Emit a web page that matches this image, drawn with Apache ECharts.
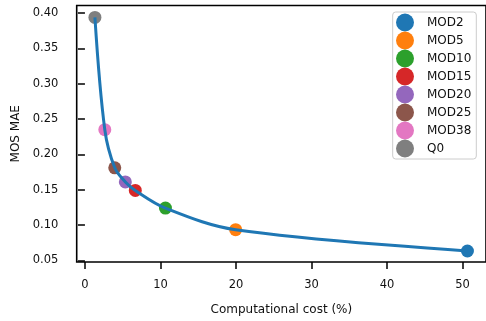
<!DOCTYPE html>
<html>
<head>
<meta charset="utf-8">
<script src="https://cdn.jsdelivr.net/npm/echarts@6/dist/echarts.min.js"></script>
<style>
html,body{margin:0;padding:0;background:#fff;}
#chart{width:486px;height:321px;}
</style>
</head>
<body>
<div id="chart"></div>
<script>
const models = ['MOD2','MOD5','MOD10','MOD15','MOD20','MOD25','MOD38','Q0'];
const cost = [50.66, 19.96, 10.66, 6.67, 5.35, 3.95, 2.63, 1.32];
const mae = [0.0632, 0.0934, 0.124, 0.149, 0.161, 0.181, 0.235, 0.394];
const colors = ['#1f77b4','#ff7f0e','#2ca02c','#d62728','#9467bd','#8c564b','#e377c2','#7f7f7f'];
const xTicks = [0, 10, 20, 30, 40, 50];
const yTicks = [0.05, 0.10, 0.15, 0.20, 0.25, 0.30, 0.35, 0.40];

const font = 'DejaVu Sans';
const chart = echarts.init(document.getElementById('chart'), null, {renderer: 'canvas'});

const linePts = models.map((m, i) => [cost[i], mae[i]]).sort((a, b) => a[0] - b[0]);

const series = models.map((m, i) => ({
  name: m,
  type: 'scatter',
  data: [[cost[i], mae[i]]],
  symbol: 'circle',
  symbolSize: 13,
  itemStyle: {color: colors[i], opacity: 1},
  z: 2
}));
series.push({
  name: 'curve',
  type: 'line',
  data: linePts,
  smooth: 0.35,
  showSymbol: false,
  symbol: 'none',
  lineStyle: {color: '#1f77b4', width: 3},
  z: 5,
  silent: true
});

chart.setOption({
  animation: false,
  backgroundColor: '#fff',
  grid: {
    left: 76.7, top: 5.5, width: 412, height: 259.2,
    show: true, borderColor: '#000', borderWidth: 1.6, backgroundColor: 'transparent'
  },
  legend: {
    data: models,
    orient: 'vertical',
    left: 392.7, top: 12,
    itemWidth: 28, itemHeight: 18, itemGap: 0,
    icon: 'circle',
    padding: [1.5, 5, 1.5, 3.3],
    backgroundColor: 'rgba(255,255,255,0.8)',
    borderColor: '#cccccc', borderWidth: 1, borderRadius: 3,
    textStyle: {fontFamily: font, fontSize: 12, color: '#111', padding: [0, 0, 0, 3]}
  },
  xAxis: {
    type: 'value',
    min: -1.092, max: 53.12,
    name: 'Computational cost (%)',
    nameLocation: 'middle', nameGap: 42,
    nameTextStyle: {fontFamily: font, fontSize: 12, color: '#111'},
    axisLine: {show: false},
    splitLine: {show: false},
    axisTick: {show: true, customValues: xTicks, length: 7, lineStyle: {color: '#000', width: 1.5}},
    axisLabel: {customValues: xTicks, margin: 17, fontFamily: font, fontSize: 11.5, color: '#111',
      formatter: v => String(v)}
  },
  yAxis: {
    type: 'value',
    min: 0.0476, max: 0.4109,
    name: 'MOS MAE',
    nameLocation: 'middle', nameGap: 55,
    nameTextStyle: {fontFamily: font, fontSize: 12, color: '#111'},
    axisLine: {show: false},
    splitLine: {show: false},
    axisTick: {show: true, customValues: yTicks, length: 7, lineStyle: {color: '#000', width: 1.5}},
    axisLabel: {customValues: yTicks, margin: 18.4, fontFamily: font, fontSize: 11.5, color: '#111',
      formatter: v => v.toFixed(2)}
  },
  series: series
});
</script>
</body>
</html>
